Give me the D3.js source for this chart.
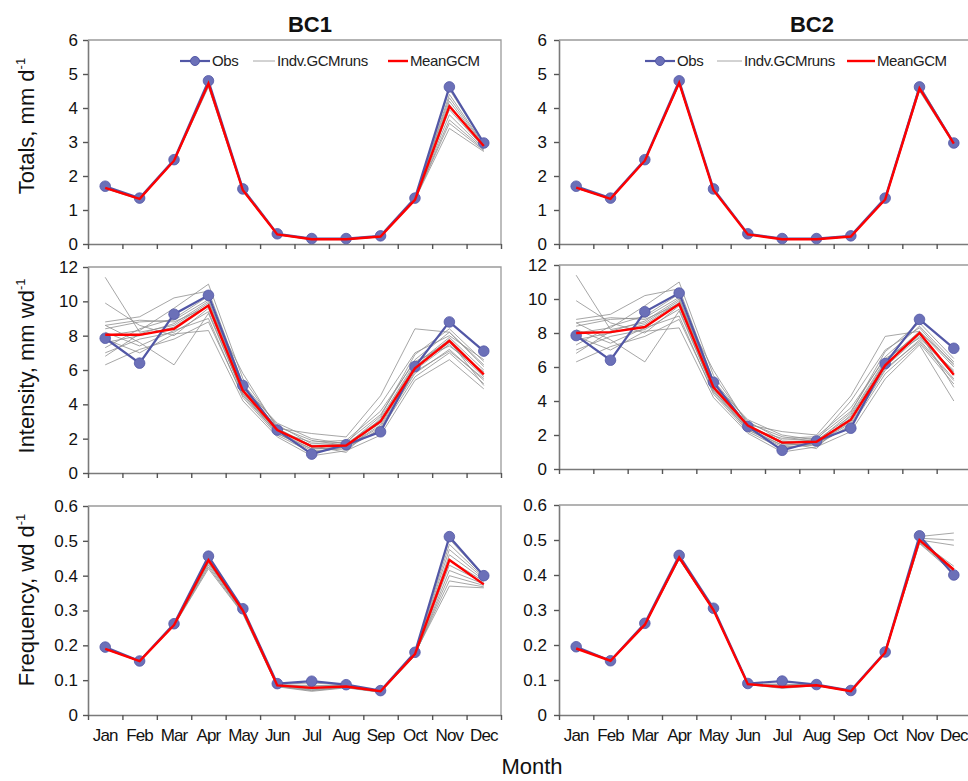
<!DOCTYPE html>
<html>
<head>
<meta charset="utf-8">
<script src="https://cdn.jsdelivr.net/npm/d3@7"></script>
<style>
  body { margin: 0; background: #fff; }
  svg { display: block; font-family: "Liberation Sans", Arial, sans-serif; }
</style>
</head>
<body>
<div id="chart"></div>
<script>
const months = ["Jan","Feb","Mar","Apr","May","Jun","Jul","Aug","Sep","Oct","Nov","Dec"];
const columnTitles = ["BC1", "BC2"];

// Totals, mm/d
const totalsObs = [1.70,1.35,2.48,4.80,1.62,0.30,0.16,0.16,0.24,1.35,4.62,2.97];
const totalsMeanBC1 = [1.65,1.33,2.45,4.72,1.58,0.28,0.14,0.14,0.22,1.30,4.05,2.88];
const totalsMeanBC2 = [1.66,1.33,2.45,4.74,1.58,0.28,0.14,0.14,0.22,1.31,4.58,2.95];
const totalsRunsBC1 = [
  [1.66,1.33,2.45,4.70,1.58,0.28,0.14,0.14,0.22,1.30,4.55,2.95],
  [1.64,1.32,2.44,4.65,1.56,0.27,0.13,0.13,0.21,1.28,4.40,2.92],
  [1.67,1.35,2.47,4.75,1.60,0.29,0.15,0.15,0.23,1.33,4.30,2.90],
  [1.65,1.33,2.46,4.72,1.59,0.28,0.14,0.14,0.22,1.31,4.20,2.88],
  [1.63,1.31,2.43,4.62,1.55,0.27,0.13,0.13,0.21,1.27,4.10,2.85],
  [1.66,1.34,2.46,4.74,1.60,0.29,0.14,0.15,0.22,1.32,3.95,2.83],
  [1.65,1.32,2.45,4.70,1.58,0.28,0.14,0.14,0.22,1.29,3.80,2.80],
  [1.64,1.33,2.44,4.68,1.57,0.28,0.13,0.14,0.21,1.30,3.65,2.78],
  [1.66,1.34,2.47,4.73,1.59,0.29,0.15,0.15,0.23,1.31,3.55,2.75],
  [1.65,1.33,2.45,4.71,1.58,0.28,0.14,0.14,0.22,1.30,3.40,2.72]
];
const totalsRunsBC2 = [
  [1.67,1.34,2.46,4.76,1.59,0.29,0.15,0.15,0.23,1.32,4.62,2.97],
  [1.65,1.33,2.45,4.73,1.58,0.28,0.14,0.14,0.22,1.31,4.55,2.93],
  [1.66,1.32,2.44,4.70,1.57,0.28,0.14,0.14,0.22,1.30,4.68,2.98],
  [1.64,1.33,2.45,4.72,1.58,0.27,0.13,0.14,0.21,1.29,4.50,2.92],
  [1.66,1.34,2.47,4.75,1.60,0.29,0.15,0.15,0.23,1.33,4.60,2.96],
  [1.65,1.32,2.44,4.71,1.57,0.28,0.14,0.14,0.22,1.30,4.64,2.94],
  [1.67,1.33,2.46,4.74,1.59,0.28,0.14,0.15,0.22,1.31,4.53,2.95],
  [1.66,1.33,2.45,4.73,1.58,0.28,0.14,0.14,0.22,1.31,4.57,2.96]
];

// Intensity, mm/wd
const intensityObs = [7.85,6.40,9.25,10.35,5.10,2.50,1.10,1.65,2.40,6.20,8.80,7.10];
const intensityMeanBC1 = [8.05,8.05,8.40,9.75,4.80,2.50,1.55,1.60,3.00,6.10,7.70,5.75];
const intensityMeanBC2 = [8.00,8.05,8.35,9.70,4.80,2.55,1.55,1.60,2.90,6.10,8.00,5.55];
const intensityRunsBC1 = [
  [11.4,8.2,8.6,9.9,4.9,2.6,1.5,1.6,3.0,6.2,7.8,5.8],
  [9.9,8.6,8.0,9.6,4.7,2.4,1.4,1.5,2.8,6.0,7.5,5.6],
  [8.8,9.1,10.2,10.6,5.2,2.8,1.7,1.8,3.4,6.6,8.2,6.2],
  [8.6,7.6,6.3,9.3,4.6,2.3,1.3,1.4,2.6,5.8,7.2,5.4],
  [8.4,8.8,8.9,10.1,5.0,2.5,1.6,1.7,3.1,6.3,7.9,6.0],
  [8.2,7.4,8.3,9.0,4.4,2.2,1.2,1.5,2.5,5.6,7.0,5.2],
  [8.0,8.3,9.6,11.0,5.5,2.7,1.9,1.6,3.3,6.9,8.4,6.5],
  [7.8,7.0,8.1,8.3,4.2,2.1,1.0,1.3,2.2,5.4,6.6,4.9],
  [7.6,8.0,8.5,9.8,4.8,2.5,1.5,1.6,2.9,6.1,7.6,5.7],
  [7.3,8.4,9.0,10.3,5.1,2.6,2.3,2.1,4.5,8.4,8.2,6.3],
  [7.0,7.8,8.2,9.4,4.6,2.4,1.8,1.9,3.6,6.5,7.4,5.9],
  [6.8,8.1,8.7,10.0,5.0,2.9,2.0,1.7,4.0,7.0,8.0,6.6],
  [6.3,7.2,7.8,8.8,4.5,2.3,1.4,1.5,2.7,5.9,7.1,5.5],
  [8.6,8.9,8.8,9.7,5.8,2.6,1.6,1.2,3.2,6.4,7.7,5.1]
];
const intensityRunsBC2 = [
  [11.4,8.2,8.6,9.9,4.9,2.6,1.5,1.6,3.0,6.2,8.0,5.6],
  [9.9,8.6,8.0,9.6,4.7,2.4,1.4,1.5,2.8,6.0,7.8,5.5],
  [8.8,9.1,10.2,10.6,5.2,2.8,1.7,1.8,3.4,6.6,8.4,6.3],
  [8.6,7.6,6.3,9.3,4.6,2.3,1.3,1.4,2.6,5.8,7.6,5.3],
  [8.4,8.8,8.9,10.1,5.0,2.5,1.6,1.7,3.1,6.3,8.1,6.0],
  [8.2,7.4,8.3,9.0,4.4,2.2,1.2,1.5,2.5,5.6,7.4,5.0],
  [8.0,8.3,9.6,11.0,5.5,2.7,1.9,1.6,3.3,6.9,8.6,6.5],
  [7.8,7.0,8.1,8.3,4.2,2.1,1.0,1.3,2.2,5.3,7.3,4.0],
  [7.6,8.0,8.5,9.8,4.8,2.5,1.5,1.6,2.9,6.1,7.9,5.7],
  [7.3,8.4,9.0,10.3,5.1,2.6,2.2,2.0,4.3,7.8,8.1,6.2],
  [7.0,7.8,8.2,9.4,4.6,2.4,1.8,1.9,3.6,6.5,7.7,5.8],
  [6.8,8.1,8.7,10.0,5.0,2.9,2.0,1.7,4.0,7.0,8.3,6.1],
  [6.3,7.2,7.8,8.8,4.5,2.3,1.4,1.5,2.7,5.9,7.5,5.2],
  [8.6,8.9,8.8,9.7,5.8,2.6,1.6,1.2,3.2,6.4,8.0,4.8]
];

// Frequency, wd/d
const frequencyObs = [0.195,0.155,0.262,0.456,0.305,0.090,0.097,0.087,0.070,0.180,0.512,0.400];
const frequencyMeanBC1 = [0.190,0.155,0.258,0.445,0.300,0.085,0.078,0.082,0.068,0.175,0.445,0.375];
const frequencyMeanBC2 = [0.190,0.155,0.258,0.450,0.300,0.088,0.080,0.085,0.068,0.178,0.500,0.415];
const frequencyRunsBC1 = [
  [0.192,0.155,0.258,0.450,0.302,0.088,0.092,0.086,0.069,0.178,0.505,0.398],
  [0.190,0.154,0.257,0.446,0.300,0.086,0.085,0.084,0.068,0.176,0.490,0.395],
  [0.191,0.156,0.259,0.440,0.298,0.085,0.080,0.083,0.067,0.175,0.475,0.392],
  [0.189,0.154,0.256,0.435,0.296,0.084,0.076,0.082,0.067,0.174,0.460,0.388],
  [0.190,0.155,0.258,0.430,0.294,0.083,0.072,0.080,0.066,0.172,0.445,0.384],
  [0.191,0.155,0.257,0.425,0.292,0.082,0.070,0.079,0.066,0.171,0.430,0.380],
  [0.190,0.154,0.256,0.420,0.290,0.081,0.068,0.078,0.065,0.170,0.415,0.376],
  [0.189,0.155,0.258,0.438,0.297,0.085,0.074,0.081,0.067,0.173,0.400,0.372],
  [0.190,0.156,0.257,0.443,0.299,0.086,0.078,0.083,0.068,0.175,0.385,0.368],
  [0.191,0.155,0.258,0.447,0.301,0.087,0.082,0.085,0.068,0.177,0.370,0.365]
];
const frequencyRunsBC2 = [
  [0.192,0.155,0.258,0.452,0.302,0.089,0.088,0.086,0.069,0.179,0.510,0.520],
  [0.191,0.155,0.257,0.449,0.300,0.088,0.084,0.085,0.068,0.178,0.505,0.500],
  [0.190,0.154,0.258,0.447,0.299,0.087,0.080,0.084,0.068,0.177,0.500,0.485],
  [0.191,0.156,0.259,0.450,0.301,0.088,0.078,0.085,0.068,0.178,0.498,0.425],
  [0.190,0.155,0.257,0.446,0.299,0.087,0.076,0.084,0.067,0.177,0.495,0.415],
  [0.191,0.155,0.258,0.448,0.300,0.088,0.082,0.085,0.068,0.178,0.492,0.410],
  [0.190,0.154,0.257,0.445,0.298,0.087,0.079,0.084,0.068,0.177,0.490,0.405],
  [0.191,0.155,0.258,0.449,0.300,0.088,0.086,0.086,0.069,0.178,0.502,0.418],
  [0.190,0.155,0.258,0.447,0.299,0.087,0.081,0.085,0.068,0.177,0.496,0.412]
];

const rowLabels = [
  { main: "Totals, mm d", sup: "-1" },
  { main: "Intensity, mm wd", sup: "-1" },
  { main: "Frequency, wd d", sup: "-1" }
];
const rowMax = [6, 12, 0.6];
const rowTicks = [[0,1,2,3,4,5,6], [0,2,4,6,8,10,12], [0,0.1,0.2,0.3,0.4,0.5,0.6]];
const legendLabels = ["Obs", "Indv.GCMruns", "MeanGCM"];

const width = 968, height = 781;
const obsColor = "#5257a6", obsFill = "#6b70b8", meanColor = "#ff0000", runColor = "#8f8f8f";
const axisColor = "#7a7a7a";

// panel layout [col][row]
const colX = [[88, 501], [559, 971]];
const rowY = [
  [[244, 40], [473, 267], [715, 506]],
  [[244, 40], [469, 265], [715, 505]]
];
const rowLabelY = [126, 366, 600];

const panels = [
  { col: 0, row: 0, obs: totalsObs, mean: totalsMeanBC1, runs: totalsRunsBC1 },
  { col: 1, row: 0, obs: totalsObs, mean: totalsMeanBC2, runs: totalsRunsBC2 },
  { col: 0, row: 1, obs: intensityObs, mean: intensityMeanBC1, runs: intensityRunsBC1 },
  { col: 1, row: 1, obs: intensityObs, mean: intensityMeanBC2, runs: intensityRunsBC2 },
  { col: 0, row: 2, obs: frequencyObs, mean: frequencyMeanBC1, runs: frequencyRunsBC1 },
  { col: 1, row: 2, obs: frequencyObs, mean: frequencyMeanBC2, runs: frequencyRunsBC2 }
];

const svg = d3.select("#chart").append("svg")
  .attr("width", width).attr("height", height);

// column titles
svg.selectAll(".coltitle").data(columnTitles).enter().append("text")
  .attr("x", (d, i) => i === 0 ? 310 : 812)
  .attr("y", 32)
  .attr("text-anchor", "middle")
  .attr("font-size", 22).attr("font-weight", "bold").attr("fill", "#111")
  .text(d => d);

// row labels
rowLabels.forEach((lab, r) => {
  const t = svg.append("text")
    .attr("transform", `translate(34,${rowLabelY[r]}) rotate(-90)`)
    .attr("text-anchor", "middle")
    .attr("font-size", 22).attr("fill", "#111");
  t.append("tspan").text(lab.main);
  t.append("tspan").attr("font-size", 13).attr("dy", -9).text(lab.sup);
});

svg.append("text")
  .attr("x", 532).attr("y", 774)
  .attr("text-anchor", "middle")
  .attr("font-size", 22).attr("fill", "#111")
  .text("Month");

panels.forEach(p => {
  const [x0, x1] = colX[p.col];
  const [yb, yt] = rowY[p.col][p.row];
  const x = d3.scaleBand().domain(months).range([x0, x1]);
  const xt = d3.scaleLinear().domain([0, 12]).range([x0, x1]);
  const y = d3.scaleLinear().domain([0, rowMax[p.row]]).range([yb, yt]);
  const cx = d => x(d) + x.bandwidth() / 2;
  const g = svg.append("g");

  // frame
  g.append("path")
    .attr("d", `M${x0},${yt}H${x1}V${yb}`)
    .attr("fill", "none").attr("stroke", "#9a9a9a").attr("stroke-width", 1.3);

  const fmt = p.row === 2 ? (d => d === 0 ? "0" : d3.format(".1f")(d)) : d3.format("d");
  const yAxis = g.append("g").attr("transform", `translate(${x0},0)`)
    .call(d3.axisLeft(y).tickValues(rowTicks[p.row]).tickFormat(fmt).tickSize(5).tickPadding(p.col === 0 ? 5 : 7).tickSizeOuter(0));
  const xAxis = g.append("g").attr("transform", `translate(0,${yb})`)
    .call(d3.axisBottom(xt).tickValues(d3.range(13)).tickFormat("").tickSize(5).tickSizeOuter(0));
  [yAxis, xAxis].forEach(a => {
    a.select(".domain").attr("stroke", axisColor).attr("stroke-width", 1.6);
    a.selectAll(".tick line").attr("stroke", "#555").attr("stroke-width", 1.4);
  });
  yAxis.selectAll("text").attr("font-size", 17).attr("fill", "#111")
    .attr("font-family", "Liberation Sans, Arial, sans-serif");

  if (p.row === 2) {
    g.selectAll(".mlab").data(months).enter().append("text")
      .attr("x", d => cx(d)).attr("y", yb + 26)
      .attr("text-anchor", "middle")
      .attr("font-size", 17).attr("letter-spacing", -0.9).attr("fill", "#111")
      .text(d => d);
  }

  const line = d3.line().x((d, i) => cx(months[i])).y(d => y(d));

  g.selectAll(".run").data(p.runs).enter().append("path")
    .attr("d", line)
    .attr("fill", "none").attr("stroke", runColor).attr("stroke-width", 0.8);

  g.append("path").datum(p.obs)
    .attr("d", line)
    .attr("fill", "none").attr("stroke", obsColor).attr("stroke-width", 2.2);
  g.selectAll(".obsdot").data(p.obs).enter().append("circle")
    .attr("cx", (d, i) => cx(months[i])).attr("cy", d => y(d))
    .attr("r", 5.3).attr("fill", obsFill).attr("stroke", obsColor).attr("stroke-width", 0.8);

  g.append("path").datum(p.mean)
    .attr("d", line)
    .attr("fill", "none").attr("stroke", meanColor).attr("stroke-width", 2.4);

  // legend in top row
  if (p.row === 0) {
    const lx = p.col === 0 ? [180, 253, 388] : [645, 717, 847];
    const lw = p.col === 0 ? [30, 22, 20] : [30, 25, 28];
    const ly = 61;
    const styles = [
      { c: obsColor, w: 2.2 },
      { c: runColor, w: 0.8 },
      { c: meanColor, w: 2.4 }
    ];
    legendLabels.forEach((lab, i) => {
      g.append("line")
        .attr("x1", lx[i]).attr("x2", lx[i] + lw[i])
        .attr("y1", ly).attr("y2", ly)
        .attr("stroke", styles[i].c).attr("stroke-width", styles[i].w);
      if (i === 0) {
        g.append("circle").attr("cx", lx[i] + lw[i] / 2).attr("cy", ly)
          .attr("r", 4.5).attr("fill", obsFill).attr("stroke", obsColor);
      }
      g.append("text")
        .attr("x", lx[i] + lw[i] + 2).attr("y", ly + 5)
        .attr("font-size", 15).attr("letter-spacing", -0.4).attr("fill", "#222")
        .text(lab);
    });
  }
});
</script>
</body>
</html>
